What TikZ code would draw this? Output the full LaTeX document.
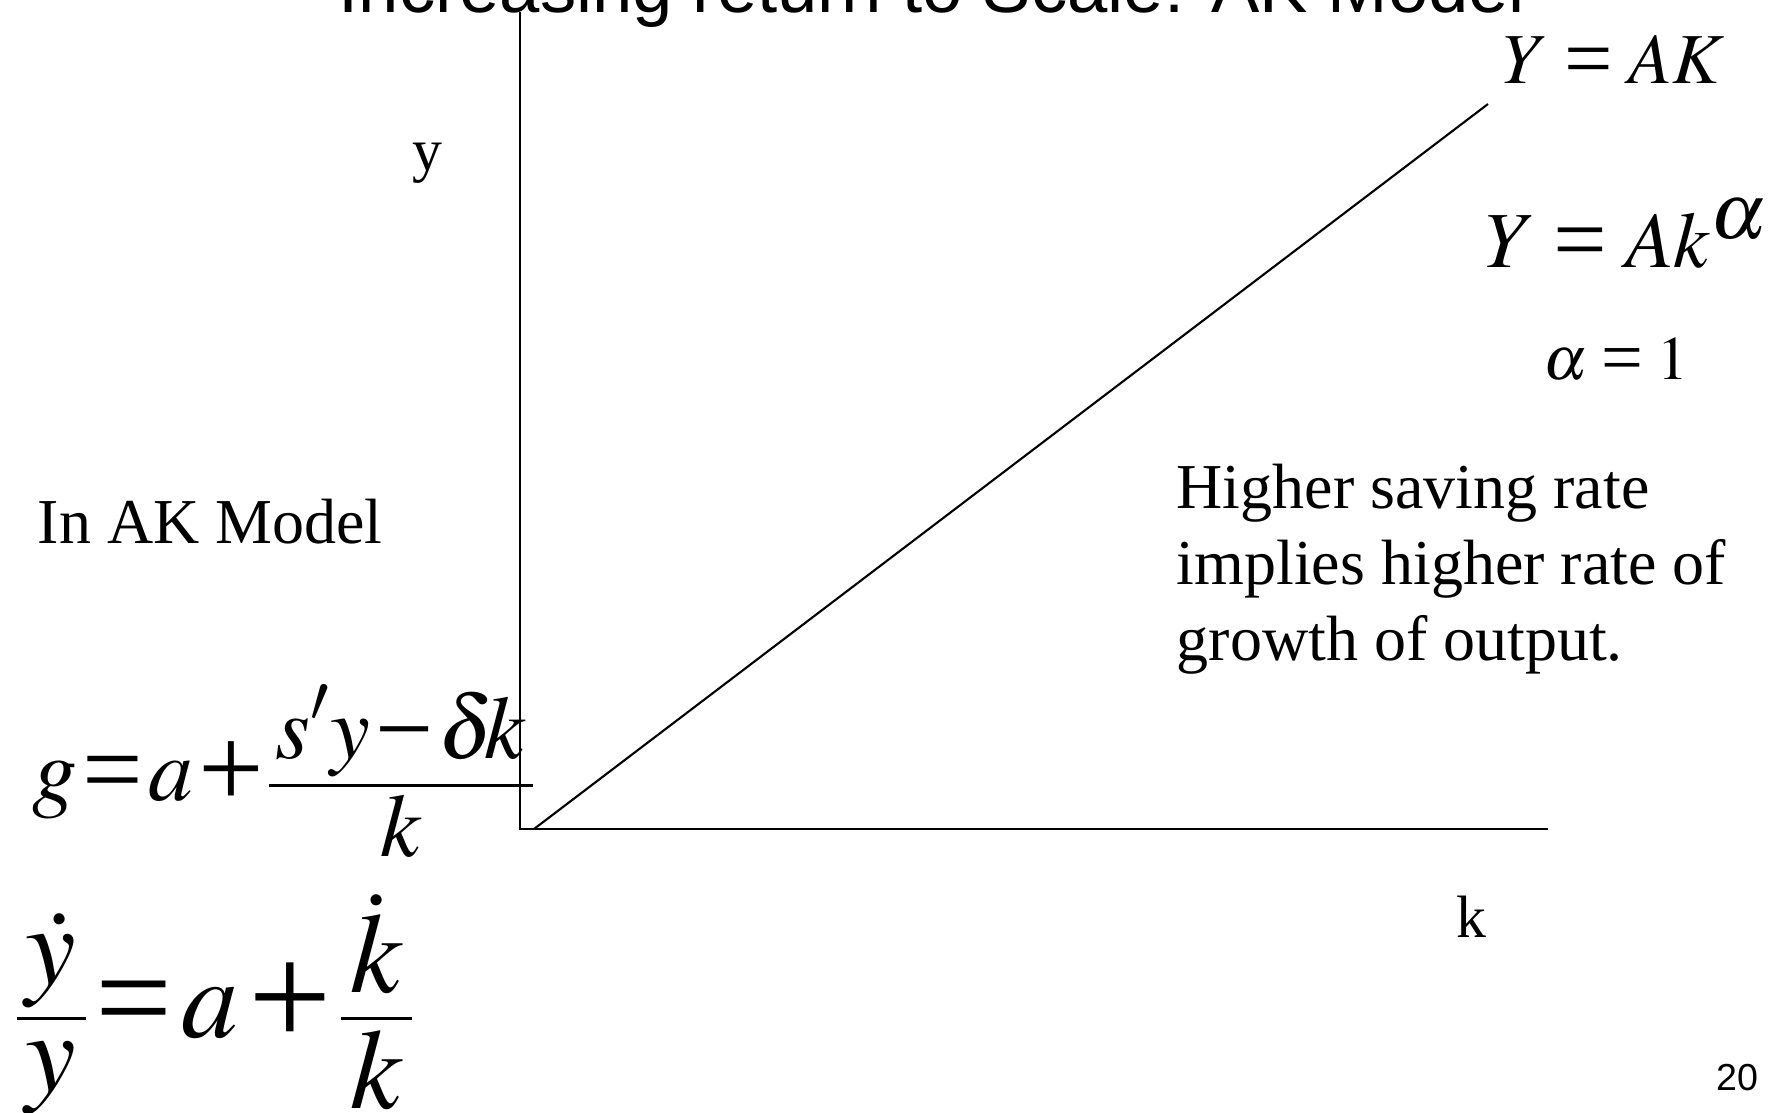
\documentclass[tikz,border=0pt]{standalone}
\usepackage{graphicx}
\usepackage{mathptmx}
\usepackage[no-math]{fontspec}
\setmainfont{Liberation Serif}
\setsansfont{Liberation Sans}

% Times signs, a little larger than the text ones
\newcommand{\teq}{\mathrel{\raisebox{-0.06em}{\scalebox{1.2}{=}}}}
\newcommand{\tplus}{\mathbin{\raisebox{-0.08em}{\scalebox{1.3}{+}}}}
\newcommand{\tminus}{\mathbin{\raisebox{-0.05em}{\scalebox{1.15}{−}}}}
% fraction laid out like the equation editor: raise, numerator, lower, denominator
\newcommand{\eefrac}[4]{\mathord{%
  \setbox0=\hbox{$\displaystyle #2$}%
  \setbox2=\hbox{$\displaystyle #4$}%
  \dimen0=\wd0 \ifdim\wd2>\dimen0 \dimen0=\wd2 \fi
  \advance\dimen0 by 0.16em
  \hbox{%
    \rlap{\hbox to\dimen0{\hss\raise#1em\box0\hss}}%
    \rlap{\hbox to\dimen0{\hss\lower#3em\box2\hss}}%
    \raise0.16em\hbox{\vrule width\dimen0 height0.4pt depth0.4pt}}}}

\begin{document}
\begin{tikzpicture}[
    x=0.01cm, y=-0.01cm,
    axis/.style={black, line width=0.6pt},
    curve/.style={black, line width=0.6pt},
    title/.style={font=\sffamily\fontsize{20.6}{24}\selectfont, anchor=base, inner sep=0pt},
    txt/.style={font=\fontsize{18.2}{21.6}\selectfont, anchor=base west, inner sep=0pt, align=left},
    axlab/.style={font=\fontsize{17}{20}\selectfont, anchor=base, inner sep=0pt},
    eq/.style={anchor=base west, inner sep=0pt},
    tight/.style={execute at begin node={\thickmuskip=#1\medmuskip=#1}},
    tight/.default=1.5mu,
    pagenum/.style={font=\sffamily\fontsize{10.7}{13}\selectfont, anchor=base, inner sep=0pt},
]
\useasboundingbox (0,0) rectangle (1773,1112);

% ---- title (cut by the top edge) ----
\node[title] (title) at (932,12) {Increasing return to Scale: AK Model};

% ---- axes and the AK line ----
\coordinate (origin) at (520,829);
\coordinate (ytop) at (520,12);
\coordinate (xend) at (1548,829);
\coordinate (linestart) at (534,829);
\coordinate (lineend) at (1488,104);
\draw[axis] (ytop) -- (origin) -- (xend);
\draw[curve] (linestart) -- (lineend);
\node[axlab] (ylab) at (427,170) {y};
\node[axlab] (klab) at (1471,937) {k};

% ---- production function ----
\node[eq, font=\fontsize{20.4}{24}\selectfont] (yak) at (1502,83) {$Y \teq AK$};
\node[eq, font=\fontsize{22.6}{27}\selectfont] (ykalpha) at (1485,267) {$Y \teq Ak^{\textstyle\alpha}$};
\node[eq, font=\fontsize{17.6}{21}\selectfont] (alphaone) at (1543,379) {$\alpha \teq 1$};

% ---- comments ----
\node[txt] (note) at (1176,660) {Higher saving rate\\implies higher rate of\\growth of output.};
\node[txt] (inak) at (37,543) {In AK Model};

% ---- growth equations ----
\node[eq, tight=1mu, font=\fontsize{25.5}{30}\selectfont] (eqg) at (32,800)
    {$g \teq a \tplus \eefrac{0.46}{s'y \tminus \delta\mkern-2mu k}{0.63}{k}$};
\node[eq, tight, font=\fontsize{32.4}{38}\selectfont] (eqdot) at (16,1037)
    {$\eefrac{0.46}{\dot y}{0.48}{y} \teq a \tplus \eefrac{0.39}{\dot k}{0.63}{k}$};

\node[pagenum] (page) at (1737,1090) {20};
\end{tikzpicture}
\end{document}
